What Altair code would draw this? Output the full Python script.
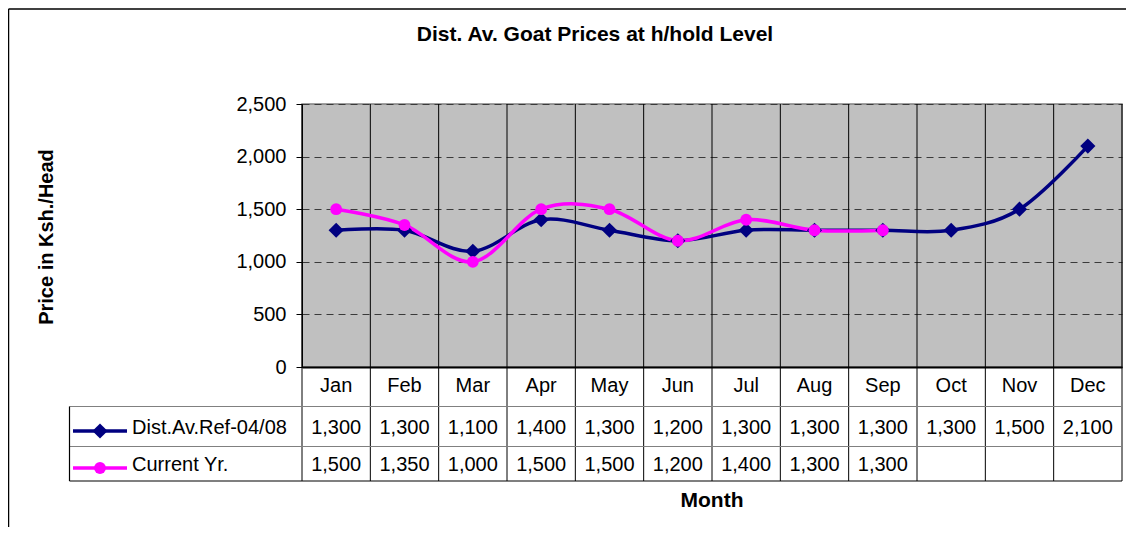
import altair as alt
import pandas as pd

# ---- data ----
months = ["Jan", "Feb", "Mar", "Apr", "May", "Jun", "Jul", "Aug", "Sep", "Oct", "Nov", "Dec"]
ref_values = [1300, 1300, 1100, 1400, 1300, 1200, 1300, 1300, 1300, 1300, 1500, 2100]
cur_values = [1500, 1350, 1000, 1500, 1500, 1200, 1400, 1300, 1300]
series_names = ["Dist.Av.Ref-04/08", "Current Yr."]
y_ticks = [0, 500, 1000, 1500, 2000, 2500]
title_text = "Dist. Av. Goat Prices at h/hold Level"
y_title = "Price in Ksh./Head"
x_title = "Month"

NAVY = "#000080"
MAGENTA = "#FF00FF"
FONT = "Liberation Sans"
FS = 20
DIAMOND_SIZE = 230
CIRCLE_SIZE = 140
LINE_W = 3.5

rows = []
for i, m in enumerate(months):
    rows.append({"month": m, "pos": i + 0.5, "value": ref_values[i], "series": series_names[0]})
for i, v in enumerate(cur_values):
    rows.append({"month": months[i], "pos": i + 0.5, "value": v, "series": series_names[1]})
df = pd.DataFrame(rows)
ref_df = df[df.series == series_names[0]]
cur_df = df[df.series == series_names[1]]
month_df = pd.DataFrame({"month": months, "pos": [i + 0.5 for i in range(len(months))]})
bounds_df = pd.DataFrame({"b": list(range(len(months) + 1))})

W, H = 820, 263
xscale = alt.Scale(domain=[0, len(months)], nice=False, zero=False)
yscale = alt.Scale(domain=[0, 2500], nice=False)

x_axis = alt.Axis(title=None, labels=False, ticks=False, grid=False,
                  domainColor="#000000", domainWidth=2)
y_axis = alt.Axis(title=None, values=y_ticks, format=",d", labelFont=FONT,
                  labelFontSize=FS, labelColor="#000000", labelPadding=10,
                  tickSize=6, tickColor="#000000", domainColor="#000000",
                  grid=True, gridColor="#3a3a3a", gridDash=[7, 5], gridWidth=1.2)


def X(field):
    return alt.X(field, scale=xscale, axis=x_axis)


def Y(field):
    return alt.Y(field, scale=yscale, axis=y_axis)


# table geometry (pixels relative to plot area)
TBL_LEFT = -232.5
TBL_TOP = 302.5
TBL_MID = 342.5
TBL_BOT = 377
ROW_MONTH = 282
ROW1 = 324
ROW2 = 361

# vertical category separators through plot and table
vlines = alt.Chart(bounds_df).mark_rule(color="#000000", strokeWidth=1).encode(
    x=X("b:Q"), y=alt.value(0), y2=alt.value(TBL_BOT)
)

line_ref = alt.Chart(ref_df).mark_line(
    interpolate="cardinal", color=NAVY, strokeWidth=LINE_W
).encode(x=X("pos:Q"), y=Y("value:Q"))

line_cur = alt.Chart(cur_df).mark_line(
    interpolate="cardinal", color=MAGENTA, strokeWidth=LINE_W
).encode(x=X("pos:Q"), y=Y("value:Q"))

pts_ref = alt.Chart(ref_df).mark_point(
    shape="diamond", filled=True, size=DIAMOND_SIZE, color=NAVY, opacity=1
).encode(x=X("pos:Q"), y=Y("value:Q"))

pts_cur = alt.Chart(cur_df).mark_point(
    shape="circle", filled=True, size=CIRCLE_SIZE, color=MAGENTA, opacity=1
).encode(x=X("pos:Q"), y=Y("value:Q"))

# table horizontal lines
hl_df = pd.DataFrame({"y": [TBL_TOP, TBL_MID]})
hlines = alt.Chart(hl_df).mark_rule(color="#808080", strokeWidth=1.2).encode(
    x=alt.value(TBL_LEFT), x2=alt.value(W), y=alt.Y("y:Q", scale=None)
)
one = pd.DataFrame({"k": [0]})
hbot = alt.Chart(one).mark_rule(color="#000000", strokeWidth=1.2).encode(
    x=alt.value(TBL_LEFT), x2=alt.value(W), y=alt.value(TBL_BOT)
)
tleft = alt.Chart(one).mark_rule(color="#000000", strokeWidth=1.2).encode(
    x=alt.value(TBL_LEFT), y=alt.value(TBL_TOP), y2=alt.value(TBL_BOT)
)

# month labels and table values
month_text = alt.Chart(month_df).mark_text(
    font=FONT, fontSize=FS, color="#000000", baseline="middle", align="center"
).encode(x=X("pos:Q"), y=alt.value(ROW_MONTH), text="month:N")

ref_text = alt.Chart(ref_df).mark_text(
    font=FONT, fontSize=FS, color="#000000", baseline="middle", align="center"
).encode(x=X("pos:Q"), y=alt.value(ROW1), text=alt.Text("value:Q", format=",d"))

cur_text = alt.Chart(cur_df).mark_text(
    font=FONT, fontSize=FS, color="#000000", baseline="middle", align="center"
).encode(x=X("pos:Q"), y=alt.value(ROW2), text=alt.Text("value:Q", format=",d"))

# legend keys in table
leg_line_ref = alt.Chart(one).mark_rule(color=NAVY, strokeWidth=LINE_W).encode(
    x=alt.value(-229), x2=alt.value(-175), y=alt.value(ROW1 + 3)
)
leg_pt_ref = alt.Chart(one).mark_point(shape="diamond", filled=True, size=DIAMOND_SIZE, color=NAVY, opacity=1).encode(
    x=alt.value(-202), y=alt.value(ROW1 + 3)
)
leg_line_cur = alt.Chart(one).mark_rule(color=MAGENTA, strokeWidth=LINE_W).encode(
    x=alt.value(-229), x2=alt.value(-175), y=alt.value(ROW2 + 3)
)
leg_pt_cur = alt.Chart(one).mark_point(shape="circle", filled=True, size=CIRCLE_SIZE, color=MAGENTA, opacity=1).encode(
    x=alt.value(-202), y=alt.value(ROW2 + 3)
)
leg_names = pd.DataFrame({"name": series_names, "yy": [ROW1, ROW2]})
leg_text = alt.Chart(leg_names).mark_text(
    font=FONT, fontSize=FS, color="#000000", baseline="middle", align="left"
).encode(x=alt.value(-170), y=alt.Y("yy:Q", scale=None), text="name:N")

# titles
title_mark = alt.Chart(pd.DataFrame({"t": [title_text]})).mark_text(
    font=FONT, fontSize=21, fontWeight="bold", color="#000000", align="center", baseline="middle"
).encode(x=alt.value(293), y=alt.value(-69), text="t:N")

ytitle_mark = alt.Chart(pd.DataFrame({"t": [y_title]})).mark_text(
    font=FONT, fontSize=20, fontWeight="bold", color="#000000", align="center",
    baseline="middle", angle=270
).encode(x=alt.value(-255), y=alt.value(133), text="t:N")

xtitle_mark = alt.Chart(pd.DataFrame({"t": [x_title]})).mark_text(
    font=FONT, fontSize=21, fontWeight="bold", color="#000000", align="center", baseline="middle"
).encode(x=alt.value(410), y=alt.value(397), text="t:N")

# outer chart-area border (left and top edges)
border_left = alt.Chart(one).mark_rule(color="#000000", strokeWidth=1.5).encode(
    x=alt.value(-293.5), y=alt.value(-95), y2=alt.value(430)
)
border_top = alt.Chart(one).mark_rule(color="#000000", strokeWidth=1.5).encode(
    x=alt.value(-293.5), x2=alt.value(840), y=alt.value(-95)
)

chart = alt.layer(
    vlines, line_ref, line_cur, pts_ref, pts_cur,
    hlines, hbot, tleft, month_text, ref_text, cur_text,
    leg_line_ref, leg_pt_ref, leg_line_cur, leg_pt_cur, leg_text,
    title_mark, ytitle_mark, xtitle_mark, border_left, border_top,
).properties(
    width=W, height=H,
    padding={"left": 294, "top": 96, "right": 4, "bottom": 160},
    autosize=alt.AutoSizeParams(type="none"),
    background="#FFFFFF",
).configure_view(
    fill="#C0C0C0", stroke="#808080", strokeWidth=1.5
)

chart.save("out.html", embed_options={"renderer": "svg", "actions": False})
